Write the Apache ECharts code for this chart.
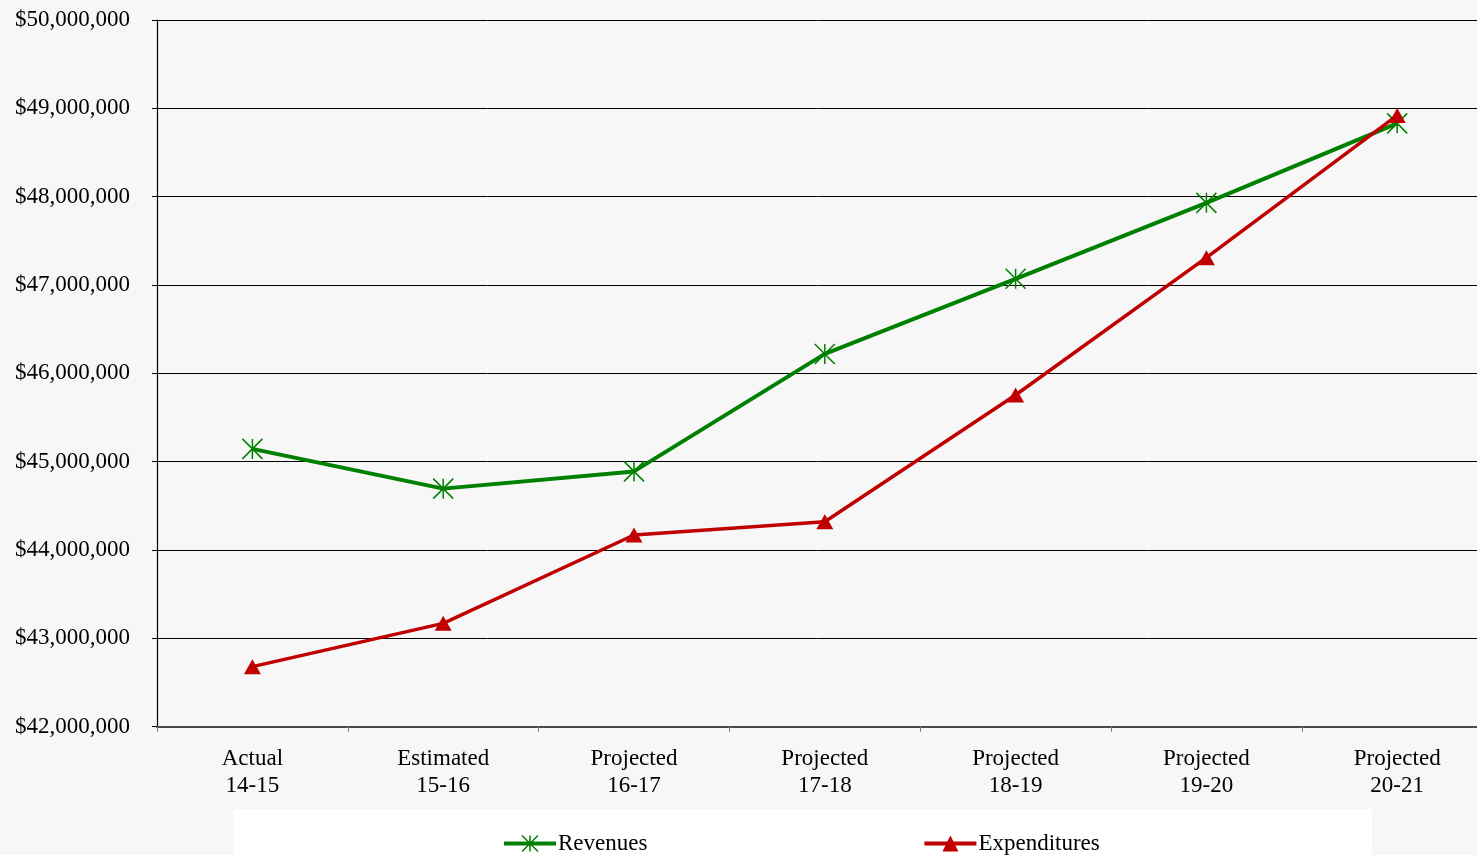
<!DOCTYPE html>
<html>
<head>
<meta charset="utf-8">
<script src="https://cdn.jsdelivr.net/npm/echarts@6/dist/echarts.min.js"></script>
<style>
html,body{margin:0;padding:0;background:#f7f7f7;}
#chart{width:1477px;height:855px;}
</style>
</head>
<body>
<div id="chart"></div>
<script>
var categories = ['Actual\n14-15','Estimated\n15-16','Projected\n16-17','Projected\n17-18','Projected\n18-19','Projected\n19-20','Projected\n20-21'];
var revenues = [45145000, 44695000, 44890000, 46220000, 47070000, 47930000, 48830000];
var expenditures = [42680000, 43170000, 44170000, 44320000, 45755000, 47310000, 48920000];
var yMin = 42000000, yMax = 50000000, yStep = 1000000;

var FONT = '"Liberation Serif", "Times New Roman", serif';
var chart = echarts.init(document.getElementById('chart'));
function money(v){ return '$' + Math.round(v).toString().replace(/\B(?=(\d{3})+(?!\d))/g, ','); }
var STAR = 'path://M0,0L10,10M10,0L0,10M5,0L5,10';

chart.setOption({
  animation: false,
  backgroundColor: '#f7f7f7',
  graphic: [{
    type: 'rect', z: -10, silent: true,
    shape: {x: 233, y: 809, width: 1139, height: 46},
    style: {fill: '#ffffff'}
  }],
  grid: {left: 157, top: 20, width: 1335.6, height: 706.7, outerBoundsMode: 'none', containLabel: false},
  legend: {
    left: 497, top: 827, itemGap: 275, itemWidth: 52, itemHeight: 20,
    textStyle: {fontFamily: FONT, fontSize: 23, color: '#000', padding: [0, 0, 0, -3]},
    data: [
      {name: 'Revenues', itemStyle: {color: '#008000', borderColor: '#008000', borderWidth: 1.5}, lineStyle: {color: '#008000', width: 4}},
      {name: 'Expenditures', itemStyle: {color: '#c00000'}, lineStyle: {color: '#c00000', width: 4}}
    ]
  },
  xAxis: {
    type: 'category', data: categories, boundaryGap: true,
    axisLine: {show: true, lineStyle: {color: '#4a4a4a', width: 2}},
    axisTick: {show: true, length: 5, inside: false, lineStyle: {color: '#7a7a7a', width: 1}},
    axisLabel: {fontFamily: FONT, fontSize: 23, color: '#000', lineHeight: 27, margin: 19, interval: 0},
    splitLine: {show: false}
  },
  yAxis: {
    type: 'value', min: yMin, max: yMax, interval: yStep,
    axisLine: {show: true, lineStyle: {color: '#000', width: 1.2}},
    axisTick: {show: true, length: 5, lineStyle: {color: '#000'}},
    axisLabel: {fontFamily: FONT, fontSize: 23, color: '#000', margin: 27, formatter: money},
    splitLine: {show: true, lineStyle: {color: '#000', width: 1}}
  },
  series: [{
    name: 'Revenues', type: 'line', data: revenues,
    symbol: STAR, symbolSize: 20,
    itemStyle: {color: '#008000', borderColor: '#008000', borderWidth: 1.5},
    lineStyle: {color: '#008000', width: 4},
    z: 3
  }, {
    name: 'Expenditures', type: 'line', data: expenditures,
    symbol: 'triangle', symbolSize: [17, 15],
    itemStyle: {color: '#c00000'},
    lineStyle: {color: '#c00000', width: 3.5},
    z: 4
  }]
});
</script>
</body>
</html>
